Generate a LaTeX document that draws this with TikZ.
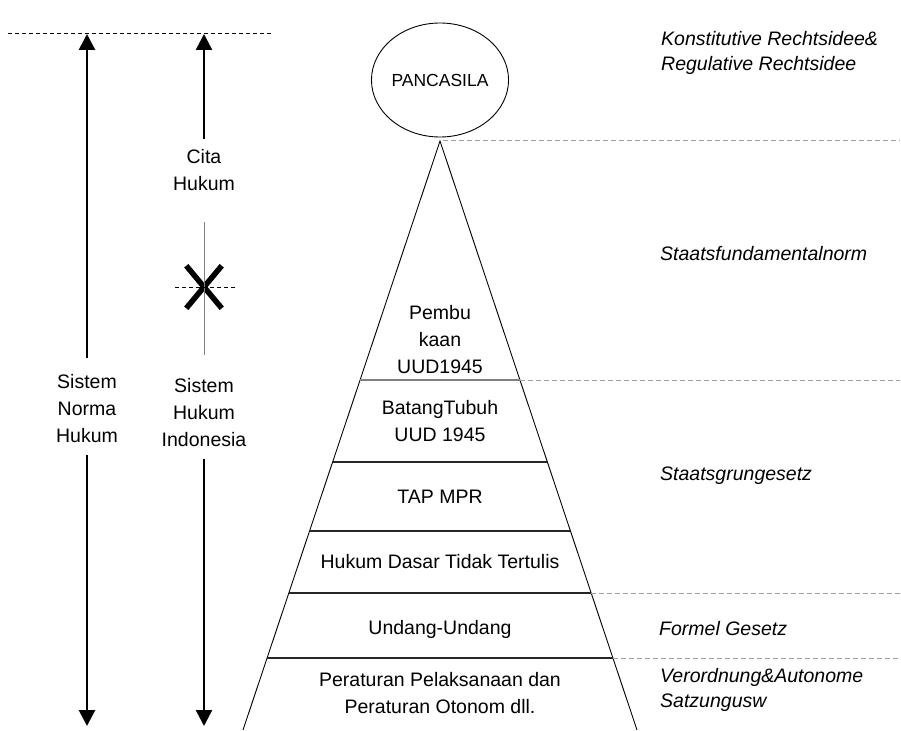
\documentclass[tikz,border=0pt]{standalone}
\usepackage{fontspec}
\setmainfont{Liberation Sans}
\usetikzlibrary{shapes.geometric, shapes.misc, positioning, arrows.meta, calc}

\begin{document}
\begin{tikzpicture}[
        x=1pt, y=-1pt,
        >={Triangle[width=16pt,length=16pt]},
        every node/.style={font=\fontsize{19.5}{27}\selectfont, align=center, inner sep=0pt},
        axis/.style={->, line width=2.7pt},
        term/.style={font=\fontsize{19.5}{25}\selectfont\itshape, align=left, anchor=west},
        guide/.style={dash pattern=on 5pt off 3pt, gray!75, line width=1pt},
        topguide/.style={dash pattern=on 4pt off 3pt, black, line width=0.8pt},
        side/.style={line width=0.9pt},
        layer/.style={line width=1.3pt, black!85}
    ]
        \useasboundingbox (0,0) rectangle (901,730);

        % Nodes
        \node[draw, ellipse, side, minimum width=116pt, minimum height=114pt, font=\fontsize{17.5}{20}\selectfont] (pancasila) at (440,80) {PANCASILA};

        \node (normtext) at (87,409) {Sistem\\Norma\\Hukum};
        \node (citatext) at (204,170) {Cita\\Hukum};
        \node (indotext) at (204,413) {Sistem\\Hukum\\Indonesia};
        \node[cross out, draw, line width=5.5pt, minimum width=30pt, minimum height=37pt] (cross) at (204,287) {};

        \node (pembukaan) at (440,340) {Pembu\\kaan\\UUD1945};
        \node (batang) at (440,421) {BatangTubuh\\UUD 1945};
        \node (tap) at (440,497) {TAP MPR};
        \node (dasar) at (440,562) {Hukum Dasar Tidak Tertulis};
        \node (undang) at (440,629) {Undang-Undang};
        \node (peraturan) at (440,693) {Peraturan Pelaksanaan dan\\Peraturan Otonom dll.};

        \node[term] (konst) at (661,53) {Konstitutive Rechtsidee\&\\Regulative Rechtsidee};
        \node[term] (fund) at (660,254) {Staatsfundamentalnorm};
        \node[term] (grund) at (660,476) {Staatsgrungesetz};
        \node[term] (formel) at (659,629) {Formel Gesetz};
        \node[term] (verord) at (660,690) {Verordnung\&Autonome\\Satzungusw};

        % Coordinates
        \coordinate (topA) at (8,33);
        \coordinate (topB) at (273,33);
        \coordinate (topL) at (87,34);
        \coordinate (botL) at (87,726);
        \coordinate (topI) at (204,34);
        \coordinate (botI) at (204,726);
        \coordinate (vetoTop) at (204,222);
        \coordinate (vetoBot) at (204,355);
        \coordinate (crossL) at (175,287);
        \coordinate (crossR) at (236,287);
        \coordinate (apex) at (440,141);
        \coordinate (bl) at (243,730);
        \coordinate (br) at (637,730);
        \coordinate (rim) at (900,0);
        \foreach \t/\n in {0.4058/a, 0.545/b, 0.6621/c, 0.7674/d, 0.8778/e} {
            \coordinate (l\n) at ($(apex)!\t!(bl)$);
            \coordinate (r\n) at ($(apex)!\t!(br)$);
        }

        % Arrows
        \draw[topguide] (topA) -- (topB);
        \draw[axis, shorten <=17pt] (normtext) -- (topL);
        \draw[axis, shorten <=12pt] (normtext) -- (botL);
        \draw[axis, shorten <=10pt] (citatext) -- (topI);
        \draw[axis, shorten <=12pt] (indotext) -- (botI);
        \draw[gray, line width=0.9pt] (vetoTop) -- (vetoBot);
        \draw[dash pattern=on 4pt off 3pt, line width=0.8pt] (crossL) -- (crossR);

        % Pyramid
        \draw[side] (bl) -- (apex) -- (br);
        \draw[layer, gray] (la) -- (ra);
        \foreach \n in {b, c, d, e} {
            \draw[layer] (l\n) -- (r\n);
        }
        \draw[guide, shorten <=3pt] (apex) -- (apex -| rim);
        \foreach \n in {a, d, e} {
            \draw[guide] (r\n) -- (r\n -| rim);
        }
    \end{tikzpicture}
\end{document}
